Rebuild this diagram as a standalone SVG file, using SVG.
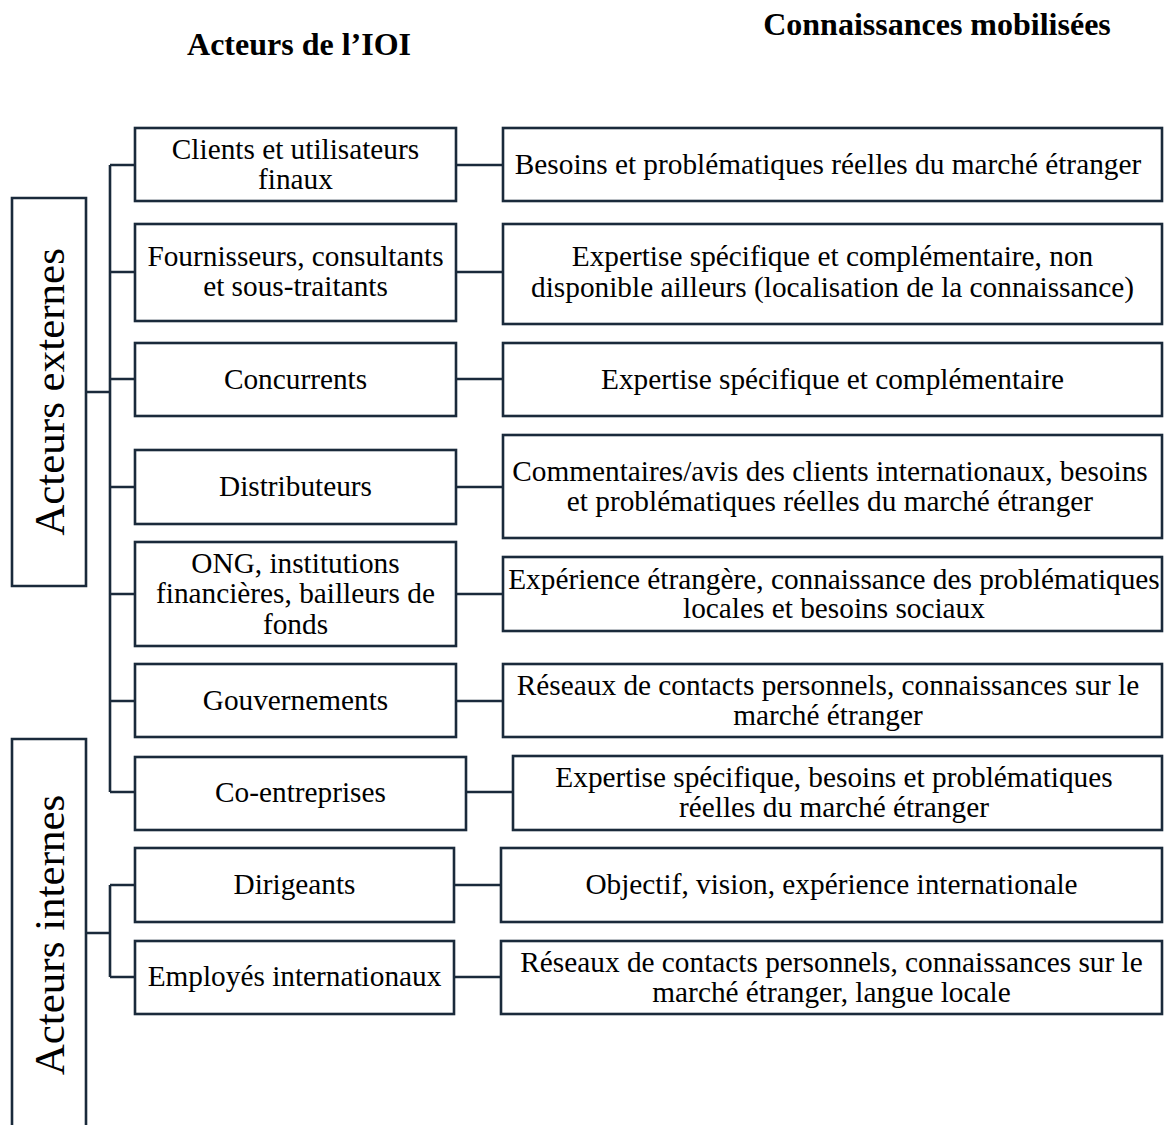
<svg xmlns="http://www.w3.org/2000/svg" width="1166" height="1125" viewBox="0 0 1166 1125">
<style>
.box{fill:#fff;stroke:#1a2a3b;stroke-width:2.6}
.ln{fill:none;stroke:#1a2a3b;stroke-width:2.6}
text{font-family:"Liberation Serif","Times New Roman",serif;fill:#000}
.t{font-size:29.3px;text-anchor:middle}
.h{font-size:32px;font-weight:bold;text-anchor:middle}
.v{font-size:43px;text-anchor:middle}
</style>
<rect width="1166" height="1125" fill="#fff"/>
<text class="h" x="299" y="55">Acteurs de l’IOI</text>
<text class="h" x="937" y="35">Connaissances mobilisées</text>

<g id="connectors">
<path class="ln" d="M110 165V792M86 392H110M110 165H135M110 272H135M110 379H135M110 487H135M110 594H135M110 701H135M110 792H135"/>
<path class="ln" d="M110 885V977M86 933H110M110 885H135M110 977H135"/>
<path class="ln" d="M456 165H503M456 272H503M456 379H503M456 487H503M456 594H503M456 701H503M466 792H513M454 885H501M454 977H501"/>
</g>

<g id="ext"><path class="box" d="M12 586V198H86V586Z"/><text class="v" transform="translate(64 392) rotate(-90)">Acteurs externes</text></g>
<g id="int"><path class="ln" d="M12 1125V739H86V1125"/><text class="v" transform="translate(64 935) rotate(-90)">Acteurs internes</text></g>

<g id="a1"><rect class="box" x="135" y="128" width="321" height="73"/><text class="t" x="295.5" y="159">Clients et utilisateurs</text><text class="t" x="295.5" y="189">finaux</text></g>
<g id="a2"><rect class="box" x="135" y="224" width="321" height="97"/><text class="t" x="295.5" y="266">Fournisseurs, consultants</text><text class="t" x="295.5" y="296">et sous-traitants</text></g>
<g id="a3"><rect class="box" x="135" y="343" width="321" height="73"/><text class="t" x="295.5" y="389">Concurrents</text></g>
<g id="a4"><rect class="box" x="135" y="450" width="321" height="74"/><text class="t" x="295.5" y="496">Distributeurs</text></g>
<g id="a5"><rect class="box" x="135" y="542" width="321" height="104"/><text class="t" x="295.5" y="573">ONG, institutions</text><text class="t" x="295.5" y="603">financières, bailleurs de</text><text class="t" x="295.5" y="634">fonds</text></g>
<g id="a6"><rect class="box" x="135" y="664" width="321" height="73"/><text class="t" x="295.5" y="710">Gouvernements</text></g>
<g id="a7"><rect class="box" x="135" y="757" width="331" height="73"/><text class="t" x="300.5" y="802">Co-entreprises</text></g>
<g id="a8"><rect class="box" x="135" y="848" width="319" height="74"/><text class="t" x="294.5" y="894">Dirigeants</text></g>
<g id="a9"><rect class="box" x="135" y="941" width="319" height="73"/><text class="t" x="294.5" y="986">Employés internationaux</text></g>

<g id="k1"><rect class="box" x="503" y="128" width="659" height="73"/><text class="t" x="828" y="174">Besoins et problématiques réelles du marché étranger</text></g>
<g id="k2"><rect class="box" x="503" y="224" width="659" height="100"/><text class="t" x="832.5" y="266">Expertise spécifique et complémentaire, non</text><text class="t" x="832.5" y="297">disponible ailleurs (localisation de la connaissance)</text></g>
<g id="k3"><rect class="box" x="503" y="343" width="659" height="73"/><text class="t" x="832.5" y="389">Expertise spécifique et complémentaire</text></g>
<g id="k4"><rect class="box" x="503" y="435" width="659" height="103"/><text class="t" x="830" y="481">Commentaires/avis des clients internationaux, besoins</text><text class="t" x="830" y="511">et problématiques réelles du marché étranger</text></g>
<g id="k5"><rect class="box" x="503" y="557" width="659" height="74"/><text class="t" x="834" y="589">Expérience étrangère, connaissance des problématiques</text><text class="t" x="834" y="618">locales et besoins sociaux</text></g>
<g id="k6"><rect class="box" x="503" y="664" width="659" height="73"/><text class="t" x="828" y="695">Réseaux de contacts personnels, connaissances sur le</text><text class="t" x="828" y="725">marché étranger</text></g>
<g id="k7"><rect class="box" x="513" y="756" width="649" height="74"/><text class="t" x="834" y="787">Expertise spécifique, besoins et problématiques</text><text class="t" x="834" y="817">réelles du marché étranger</text></g>
<g id="k8"><rect class="box" x="501" y="848" width="661" height="74"/><text class="t" x="831.5" y="894">Objectif, vision, expérience internationale</text></g>
<g id="k9"><rect class="box" x="501" y="941" width="661" height="73"/><text class="t" x="831.5" y="972">Réseaux de contacts personnels, connaissances sur le</text><text class="t" x="831.5" y="1002">marché étranger, langue locale</text></g>
</svg>
